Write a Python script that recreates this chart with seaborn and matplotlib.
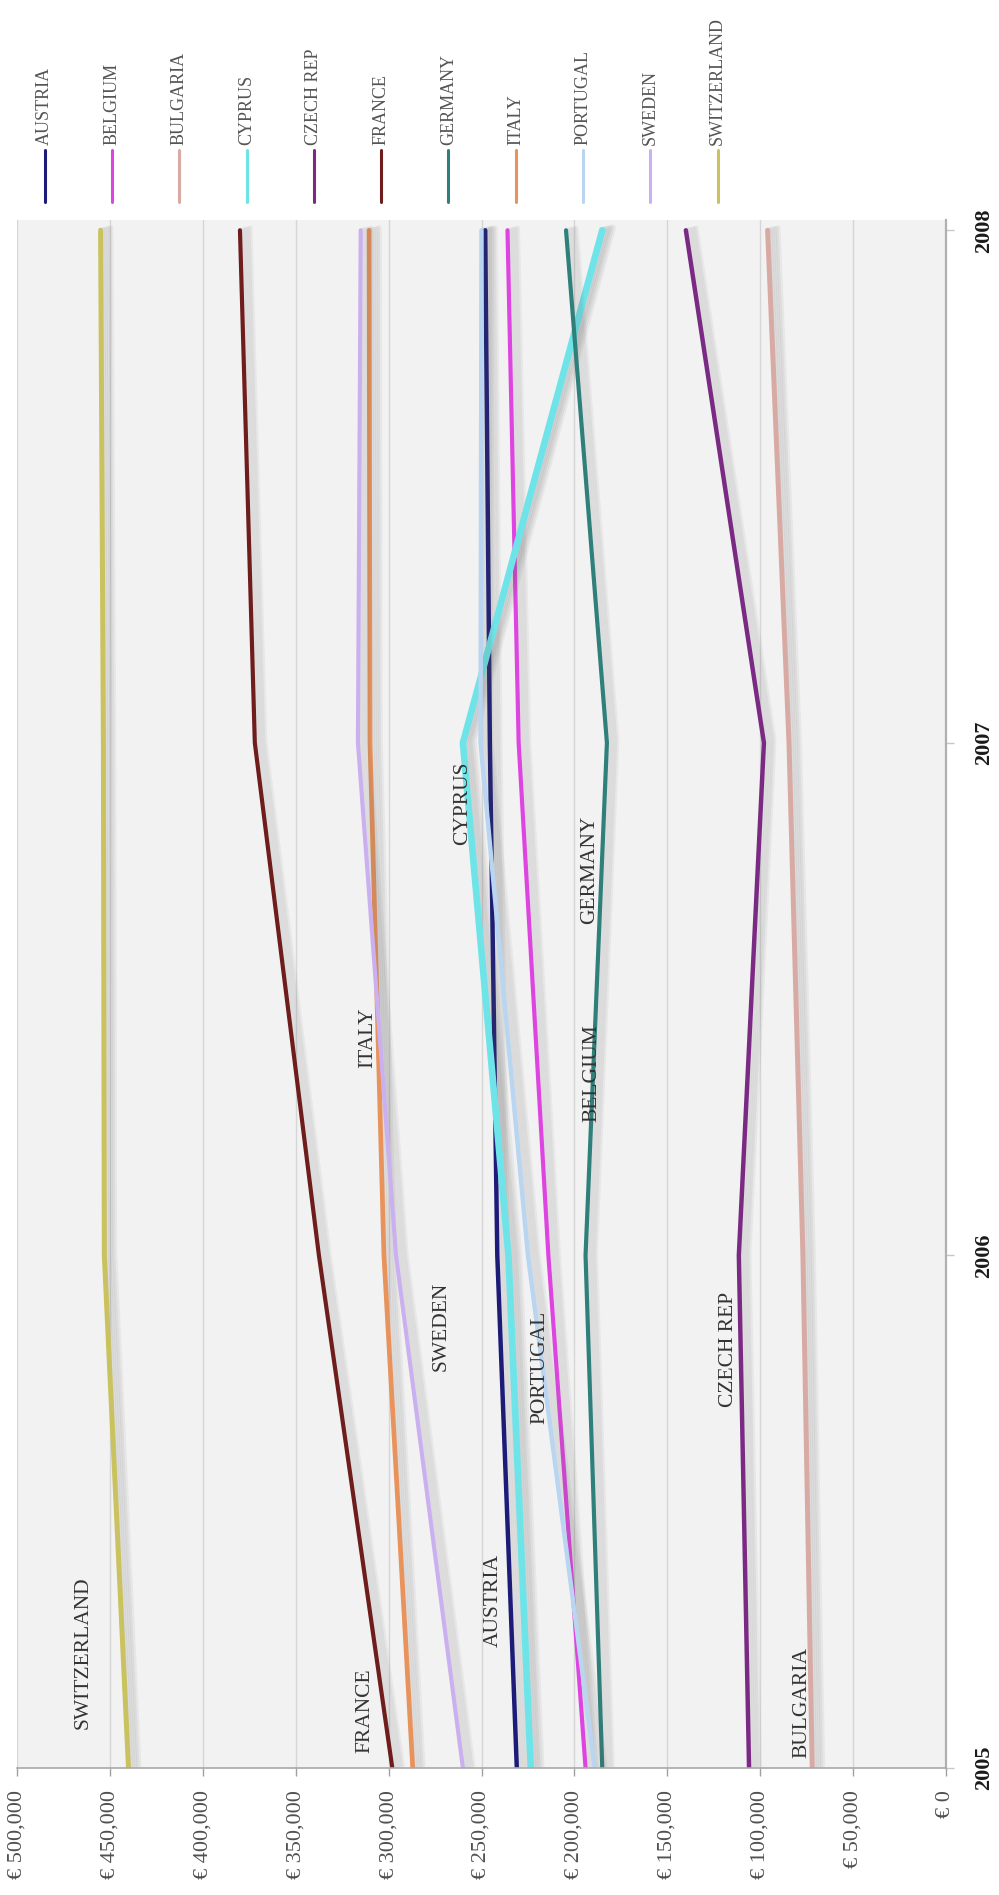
import matplotlib
matplotlib.use("Agg")
import matplotlib.pyplot as plt
import matplotlib.patheffects as pe
from matplotlib.lines import Line2D
from matplotlib.ticker import FuncFormatter, FixedLocator
import pandas as pd
import seaborn as sns

# ---- data -------------------------------------------------------------
years = [2005, 2006, 2007, 2008]
countries = ["AUSTRIA", "BELGIUM", "BULGARIA", "CYPRUS", "CZECH REP", "FRANCE",
             "GERMANY", "ITALY", "PORTUGAL", "SWEDEN", "SWITZERLAND"]

austria = [231000, 241500, 245500, 248000]
belgium = [194000, 214000, 230000, 236000]
bulgaria = [72000, 77000, 84500, 96000]
cyprus = [223500, 235500, 260000, 185000]
czech_rep = [106000, 111500, 98000, 140000]
france = [298000, 337500, 372000, 380000]
germany = [185000, 194000, 182500, 204500]
italy = [287000, 302500, 310000, 310500]
portugal = [189000, 225000, 250500, 250000]
sweden = [260000, 296000, 316500, 315000]
switzerland = [440000, 453000, 453500, 455000]

series = [austria, belgium, bulgaria, cyprus, czech_rep, france,
          germany, italy, portugal, sweden, switzerland]

colors = ["#1c1c78", "#de45e0", "#d8aaa4", "#6fe4e8", "#7b2a84", "#6e1c1c",
          "#2f7f7b", "#e8925c", "#b9d5ef", "#cbb0ef", "#c9c25e"]
widths = [3.2, 3.0, 3.6, 4.8, 3.2, 3.0, 3.0, 3.4, 3.2, 3.0, 3.6]

value_ticks = [0, 50000, 100000, 150000, 200000, 250000,
               300000, 350000, 400000, 450000, 500000]

# in-chart name labels: (value, year) anchor of each label
name_labels = {
    "SWITZERLAND": (464500, 2005.225),
    "FRANCE": (312700, 2005.112),
    "ITALY": (311000, 2006.424),
    "SWEDEN": (271800, 2005.862),
    "AUSTRIA": (243800, 2005.326),
    "PORTUGAL": (218500, 2005.781),
    "BELGIUM": (190500, 2006.355),
    "CYPRUS": (259900, 2006.882),
    "GERMANY": (191600, 2006.752),
    "CZECH REP": (117300, 2005.816),
    "BULGARIA": (77500, 2005.128),
}

# ---- figure -----------------------------------------------------------
sns.set_style("white")
plt.rcParams["font.family"] = ["Liberation Serif", "DejaVu Serif"]

W, H = 999, 1895
fig = plt.figure(figsize=(W / 100, H / 100), dpi=100)
ax = fig.add_axes([17 / W, 127 / H, 929 / W, 1548 / H])
ax.set_facecolor("#f2f2f2")

# soft drop shadow built from a few faint offset copies
shadow = [pe.SimpleLineShadow(offset=(d, d * 0.25), shadow_color="0.35", alpha=0.07)
          for d in (1.5, 3.0, 4.5, 6.0, 7.5)] + [pe.Normal()]

for name, vals, col, lw in zip(countries, series, colors, widths):
    df = pd.DataFrame({"value": vals, "year": years})
    sns.lineplot(data=df, x="value", y="year", orient="y", estimator=None,
                 sort=False, color=col, linewidth=lw, ax=ax, legend=False)
    ax.lines[-1].set_path_effects(shadow)
    ax.lines[-1].set_solid_joinstyle("round")

ax.set_xlim(500000, 0)
ax.set_ylim(2005, 2008.02)
ax.set_xlabel("")
ax.set_ylabel("")

# value axis (bottom)
ax.xaxis.set_major_locator(FixedLocator(value_ticks))
ax.xaxis.set_major_formatter(FuncFormatter(lambda v, p: "€ " + f"{int(round(v)):,}"))
ax.tick_params(axis="x", which="major", direction="out", length=6, width=1,
               color="#a0a0a0", pad=10, labelsize=16, labelcolor="#505050",
               labelrotation=90, bottom=True)

# year axis (right)
ax.yaxis.tick_right()
ax.yaxis.set_major_locator(FixedLocator(years))
ax.yaxis.set_major_formatter(FuncFormatter(lambda v, p: f"{int(round(v))}"))
ax.tick_params(axis="y", which="major", direction="out", length=6, width=1,
               color="#c8c8c8", pad=14, labelsize=16, labelcolor="#1a1a1a",
               labelrotation=90, right=True, left=False)
for lab in ax.get_yticklabels():
    lab.set_fontweight("bold")
    lab.set_verticalalignment("center")

ax.xaxis.grid(True, color="#d6d6d6", linewidth=1.0)
ax.yaxis.grid(False)
for side in ("left", "top"):
    ax.spines[side].set_visible(False)
ax.spines["bottom"].set_color("#a8a8a8")
ax.spines["bottom"].set_linewidth(1.2)
ax.spines["right"].set_color("#b0b0b0")
ax.spines["right"].set_linewidth(1.6)

# name labels next to the lines
for name, (vx, vy) in name_labels.items():
    ax.text(vx, vy, name, rotation=90, ha="center", va="center",
            fontsize=15.5, color="#333333", zorder=5)

# legend: short vertical keys with names above them
leg_x0, leg_dx = 44.7, 67.3
for i, (name, col) in enumerate(zip(countries, colors)):
    xf = (leg_x0 + i * leg_dx) / W
    fig.add_artist(Line2D([xf, xf], [(H - 202) / H, (H - 150) / H],
                          transform=fig.transFigure, color=col, linewidth=2.2))
    fig.text(xf, (H - 145) / H, name, rotation=90, ha="center", va="bottom",
             fontsize=13, color="#555555")

fig.savefig("out.png", dpi=100, facecolor="white")
